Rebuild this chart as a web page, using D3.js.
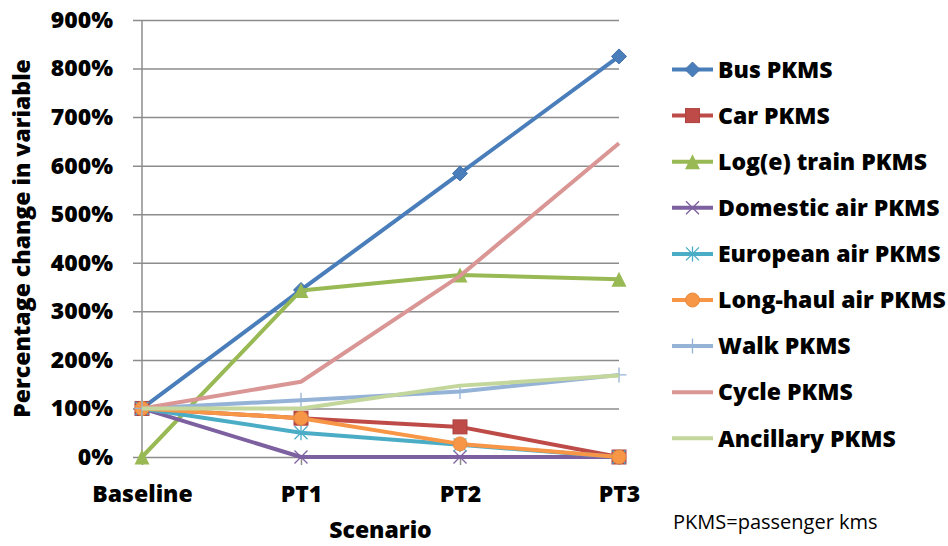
<!DOCTYPE html>
<html>
<head>
<meta charset="utf-8">
<script src="https://cdn.jsdelivr.net/npm/d3@7"></script>
<style>
  body { margin: 0; background: #fff; }
  svg text { font-family: "Open Sans", Lato, sans-serif; }
</style>
</head>
<body>
<div id="chart"></div>
<script>
var width = 948;
var height = 546;

// data (percent change, 1 = 100%)
var scenarios = ["Baseline", "PT1", "PT2", "PT3"];
var yTicks = [0, 1, 2, 3, 4, 5, 6, 7, 8, 9];

var busPkms = [1.00, 3.44, 5.84, 8.25];
var carPkms = [1.00, 0.80, 0.62, 0.00];
var trainPkms = [0.00, 3.43, 3.75, 3.66];
var domesticAirPkms = [1.00, 0.00, 0.00, 0.00];
var europeanAirPkms = [1.00, 0.50, 0.25, 0.00];
var longHaulAirPkms = [1.00, 0.80, 0.27, 0.00];
var walkPkms = [1.00, 1.17, 1.35, 1.69];
var cyclePkms = [1.00, 1.55, 3.73, 6.46];
var ancillaryPkms = [1.00, 1.00, 1.47, 1.68];

var seriesNames = ["Bus PKMS", "Car PKMS", "Log(e) train PKMS", "Domestic air PKMS",
  "European air PKMS", "Long-haul air PKMS", "Walk PKMS", "Cycle PKMS", "Ancillary PKMS"];
var seriesValues = [busPkms, carPkms, trainPkms, domesticAirPkms, europeanAirPkms,
  longHaulAirPkms, walkPkms, cyclePkms, ancillaryPkms];
var seriesColors = ["#4A7EBB", "#BE4B48", "#98B954", "#7D60A0", "#4BACC6",
  "#F79646", "#95B3D7", "#D99694", "#C3D69B"];
var seriesMarkers = ["diamond", "square", "triangle", "x", "star", "circle", "plus", null, null];

var series = seriesNames.map(function(name, i) {
  return { name: name, values: seriesValues[i], color: seriesColors[i], marker: seriesMarkers[i] };
});

var svg = d3.select("#chart").append("svg")
  .attr("width", width)
  .attr("height", height);

var x = d3.scalePoint()
  .domain(scenarios)
  .range([142, 619])
  .padding(0);

var y = d3.scaleLinear()
  .domain([0, 9])
  .range([457, 20]);

var fontBig = "23px";

// gridlines + y tick labels
var yAxis = svg.append("g")
  .attr("transform", "translate(133,0)")
  .call(d3.axisLeft(y)
    .tickValues(yTicks)
    .tickSize(-486)
    .tickPadding(20)
    .tickFormat(function(d) { return d * 100 + "%"; }));
yAxis.select(".domain").remove();
yAxis.selectAll("line").attr("stroke", "#8c8c8c").attr("stroke-width", 1.5);
yAxis.selectAll("text")
  .attr("fill", "#000")
  .style("font-size", fontBig)
  .style("font-weight", 800);

// vertical axis line
svg.append("line")
  .attr("x1", x("Baseline")).attr("x2", x("Baseline"))
  .attr("y1", y(9)).attr("y2", y(0))
  .attr("stroke", "#8c8c8c")
  .attr("stroke-width", 1.5);

// x ticks + labels
var xAxis = svg.append("g")
  .attr("transform", "translate(0," + y(0) + ")")
  .call(d3.axisBottom(x).tickSize(8).tickPadding(21));
xAxis.select(".domain").remove();
xAxis.selectAll("line").attr("stroke", "#8c8c8c").attr("stroke-width", 1.5);
xAxis.selectAll("text")
  .attr("fill", "#000")
  .style("font-size", fontBig)
  .style("font-weight", 800);

var line = d3.line()
  .x(function(d, i) { return x(scenarios[i]); })
  .y(function(d) { return y(d); });

function drawMarker(g, type, color, cx, cy) {
  if (type === "diamond") {
    g.append("path").attr("d", "M0,-7.5L7.5,0L0,7.5L-7.5,0Z")
      .attr("transform", "translate(" + cx + "," + cy + ")")
      .attr("fill", color).attr("stroke", d3.color(color).darker(0.3)).attr("stroke-width", 1);
  } else if (type === "square") {
    g.append("rect").attr("x", cx - 7).attr("y", cy - 7).attr("width", 14).attr("height", 14)
      .attr("fill", color).attr("stroke", d3.color(color).darker(0.3)).attr("stroke-width", 1);
  } else if (type === "triangle") {
    g.append("path").attr("d", "M0,-7.5L7.5,7.5L-7.5,7.5Z")
      .attr("transform", "translate(" + cx + "," + cy + ")")
      .attr("fill", color);
  } else if (type === "circle") {
    g.append("circle").attr("cx", cx).attr("cy", cy).attr("r", 7)
      .attr("fill", color).attr("stroke", d3.color(color).darker(0.2)).attr("stroke-width", 1);
  } else if (type === "x" || type === "star" || type === "plus") {
    var p = "";
    if (type === "x" || type === "star") p += "M-6.5,-6.5L6.5,6.5M-6.5,6.5L6.5,-6.5";
    if (type === "star" || type === "plus") p += "M0,-7.5L0,7.5";
    if (type === "plus") p += "M-7.5,0L7.5,0";
    g.append("path").attr("d", p)
      .attr("transform", "translate(" + cx + "," + cy + ")")
      .attr("fill", "none").attr("stroke", color).attr("stroke-width", 1.3);
  }
}

var plot = svg.append("g");
series.forEach(function(s) {
  var g = plot.append("g");
  g.append("path")
    .datum(s.values)
    .attr("d", line)
    .attr("fill", "none")
    .attr("stroke", s.color)
    .attr("stroke-width", 4)
    .attr("stroke-linejoin", "round");
  if (s.marker) {
    s.values.forEach(function(v, i) {
      drawMarker(g, s.marker, s.color, x(scenarios[i]), y(v));
    });
  }
});

// legend
var legend = svg.append("g");
series.forEach(function(s, i) {
  var ly = 69.5 + i * 46.1;
  var g = legend.append("g");
  g.append("line")
    .attr("x1", 672).attr("x2", 713)
    .attr("y1", ly).attr("y2", ly)
    .attr("stroke", s.color).attr("stroke-width", 4);
  if (s.marker) drawMarker(g, s.marker, s.color, 692.5, ly);
  g.append("text")
    .attr("x", 718)
    .attr("y", ly)
    .attr("dy", "0.36em")
    .style("font-size", fontBig)
    .style("font-weight", 800)
    .text(s.name);
});

// axis titles
svg.append("text")
  .attr("x", (x("Baseline") + x("PT3")) / 2)
  .attr("y", 538)
  .attr("text-anchor", "middle")
  .style("font-size", fontBig)
  .style("font-weight", 800)
  .text("Scenario");

svg.append("text")
  .attr("transform", "translate(29.5," + ((y(0) + y(9)) / 2) + ") rotate(-90)")
  .attr("text-anchor", "middle")
  .style("font-size", fontBig)
  .style("font-weight", 800)
  .text("Percentage change in variable");

svg.append("text")
  .attr("x", 673)
  .attr("y", 529)
  .style("font-size", "20px")
  .text("PKMS=passenger kms");
</script>
</body>
</html>
